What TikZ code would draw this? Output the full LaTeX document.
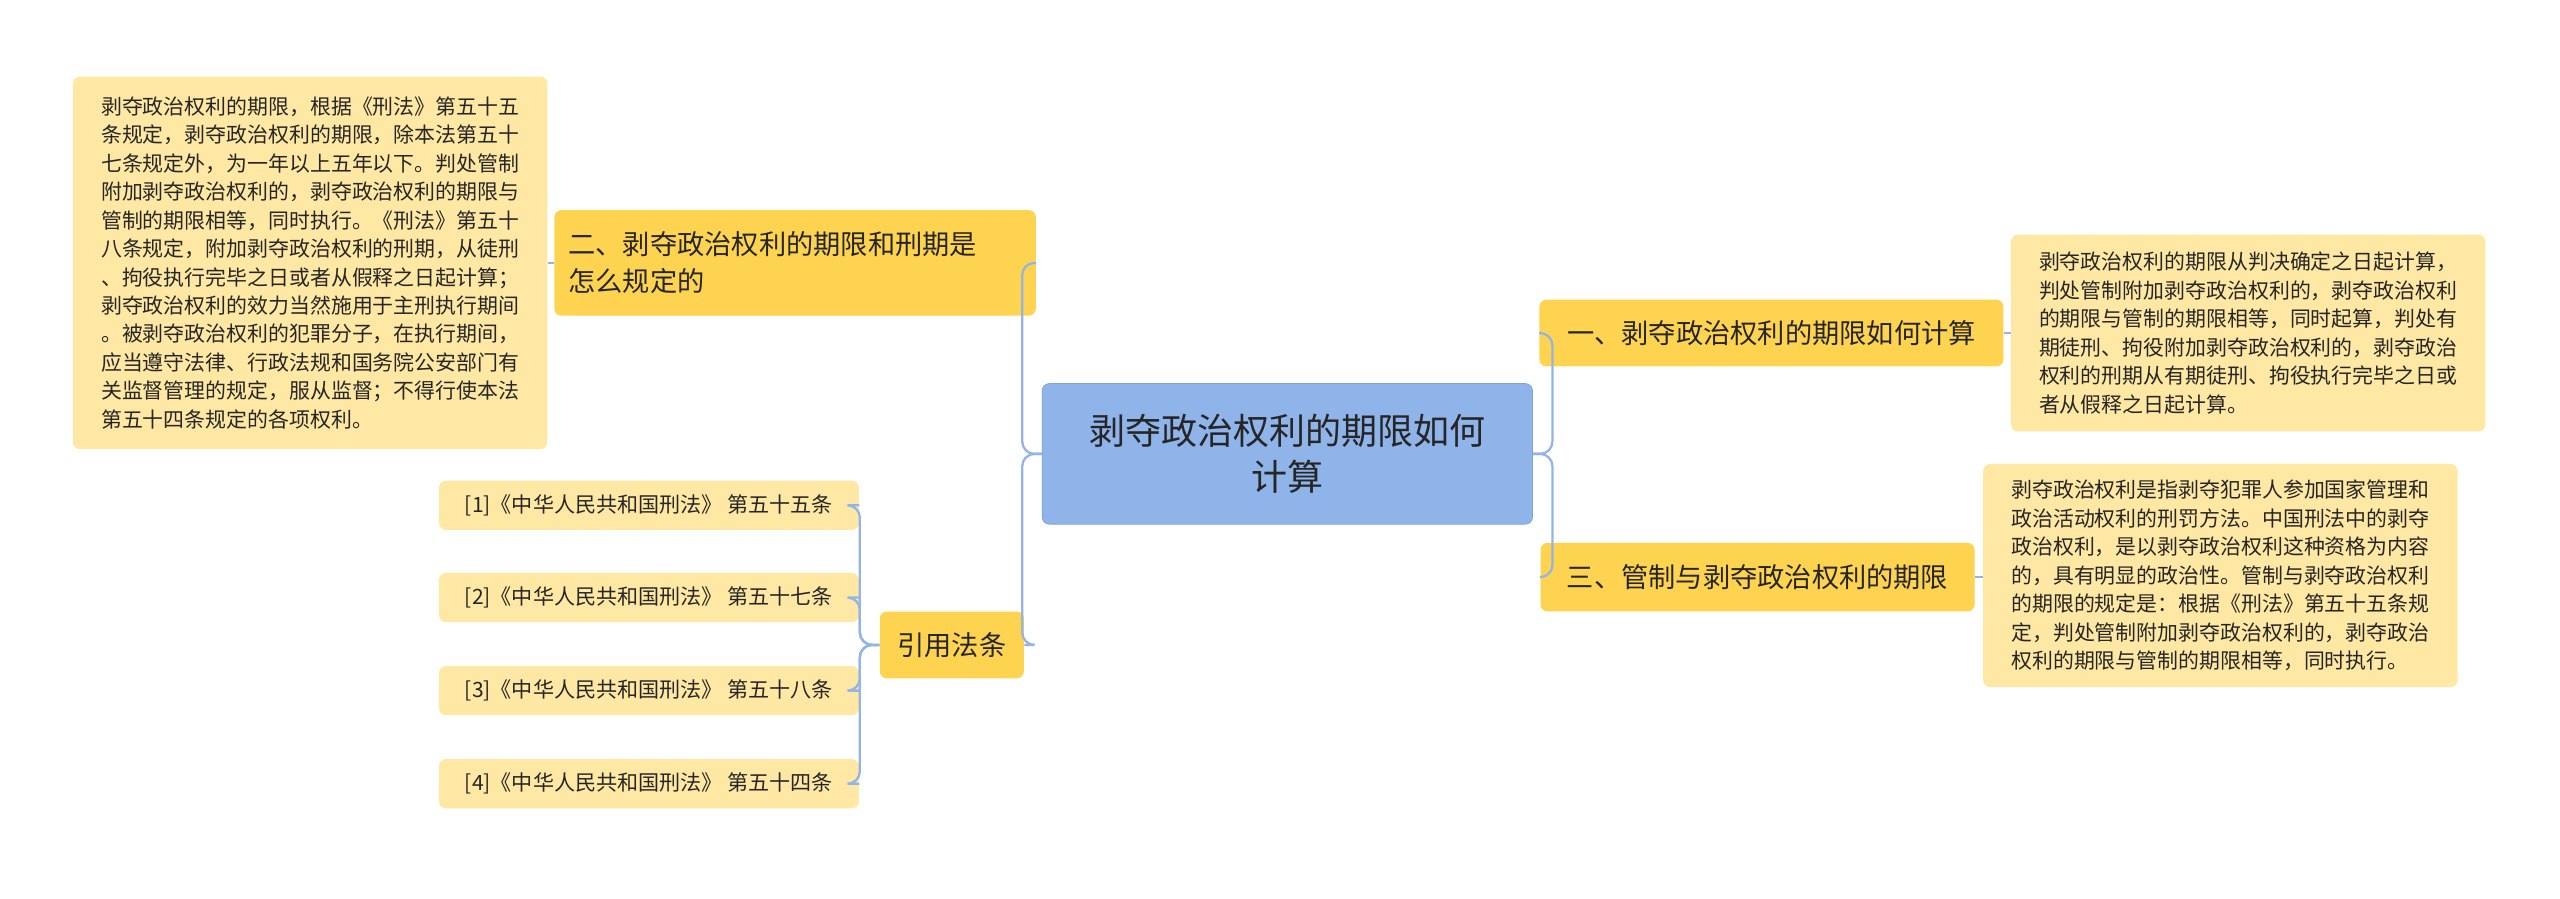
\documentclass[tikz,border=0pt]{standalone}
\usepackage{fontspec}
\setmainfont{Noto Sans CJK SC}
\begin{document}
\begin{tikzpicture}[x=0.03266cm,y=-0.03266cm,
  base/.style={rounded corners=4pt,inner sep=0pt,text=black!85},
  center/.style={base,fill=cblue,draw=cblue!90!black,line width=0.4pt,font=\fontsize{20.5pt}{26pt}\selectfont,align=center},
  mainb/.style={base,fill=cyel,font=\fontsize{15.5pt}{21pt}\selectfont,align=left},
  leaf/.style={base,fill=cleaf,font=\fontsize{11.9pt}{16.2pt}\selectfont,align=left},
  ref/.style={base,fill=cleaf,font=\fontsize{12pt}{15pt}\selectfont},
  conn/.style={draw=cline,line width=1.3pt,rounded corners=7pt}]
\definecolor{cblue}{HTML}{8FB4EA}
\definecolor{cyel}{HTML}{FDD34F}
\definecolor{cleaf}{HTML}{FFE8A3}
\definecolor{cline}{HTML}{93B4E6}
\useasboundingbox[fill=white] (0,0) rectangle (1568,550.5);
\node[center,minimum width=279,minimum height=80] (c) at (788.5,278) {剥夺政治权利的期限如何\\计算};
\node[mainb,minimum width=274,minimum height=60,text width=258] (b2) at (487,161) {二、剥夺政治权利的期限和刑期是\\怎么规定的};
\node[mainb,minimum width=82,minimum height=38,align=center] (b4) at (583,395) {引用法条};
\node[mainb,minimum width=264,minimum height=38,align=center] (b1) at (1085,204) {一、剥夺政治权利的期限如何计算};
\node[mainb,minimum width=247,minimum height=39,align=center] (b3) at (1076.5,353.5) {三、管制与剥夺政治权利的期限};
\node[leaf,minimum width=270,minimum height=212] (l2) at (190,161) {剥夺政治权利的期限，根据《刑法》第五十五\\条规定，剥夺政治权利的期限，除本法第五十\\七条规定外，为一年以上五年以下。判处管制\\附加剥夺政治权利的，剥夺政治权利的期限与\\管制的期限相等，同时执行。《刑法》第五十\\八条规定，附加剥夺政治权利的刑期，从徒刑\\、拘役执行完毕之日或者从假释之日起计算；\\剥夺政治权利的效力当然施用于主刑执行期间\\。被剥夺政治权利的犯罪分子，在执行期间，\\应当遵守法律、行政法规和国务院公安部门有\\关监督管理的规定，服从监督；不得行使本法\\第五十四条规定的各项权利。};
\node[leaf,minimum width=270,minimum height=112] (l1) at (1377,204) {剥夺政治权利的期限从判决确定之日起计算，\\判处管制附加剥夺政治权利的，剥夺政治权利\\的期限与管制的期限相等，同时起算，判处有\\期徒刑、拘役附加剥夺政治权利的，剥夺政治\\权利的刑期从有期徒刑、拘役执行完毕之日或\\者从假释之日起计算。};
\node[leaf,minimum width=270,minimum height=127] (l3) at (1360,352.5) {剥夺政治权利是指剥夺犯罪人参加国家管理和\\政治活动权利的刑罚方法。中国刑法中的剥夺\\政治权利，是以剥夺政治权利这种资格为内容\\的，具有明显的政治性。管制与剥夺政治权利\\的期限的规定是：根据《刑法》第五十五条规\\定，判处管制附加剥夺政治权利的，剥夺政治\\权利的期限与管制的期限相等，同时执行。};
\node[ref,minimum width=239,minimum height=28] (r1) at (397.5,309.5) {[1]《中华人民共和国刑法》 第五十五条};
\node[ref,minimum width=239,minimum height=28] (r2) at (397.5,366) {[2]《中华人民共和国刑法》 第五十七条};
\node[ref,minimum width=239,minimum height=28] (r3) at (397.5,423) {[3]《中华人民共和国刑法》 第五十八条};
\node[ref,minimum width=239,minimum height=28] (r4) at (397.5,480) {[4]《中华人民共和国刑法》 第五十四条};
\draw[conn] (c.west) -- ++(-12,0) |- (b2.east);
\draw[conn] (c.west) -- ++(-12,0) |- (b4.east);
\draw[conn] (c.east) -- ++(12,0) |- (b1.west);
\draw[conn] (c.east) -- ++(12,0) |- (b3.west);
\draw[conn] (b2.west) -- (b2.west -| l2.east);
\draw[conn] (b1.east) -- (b1.east -| l1.west);
\draw[conn] (b3.east) -- (b3.east -| l3.west);
\foreach \r in {r1,r2,r3,r4}{\draw[conn] (b4.west) -- ++(-12,0) |- (\r.east);}
\end{tikzpicture}
\end{document}
